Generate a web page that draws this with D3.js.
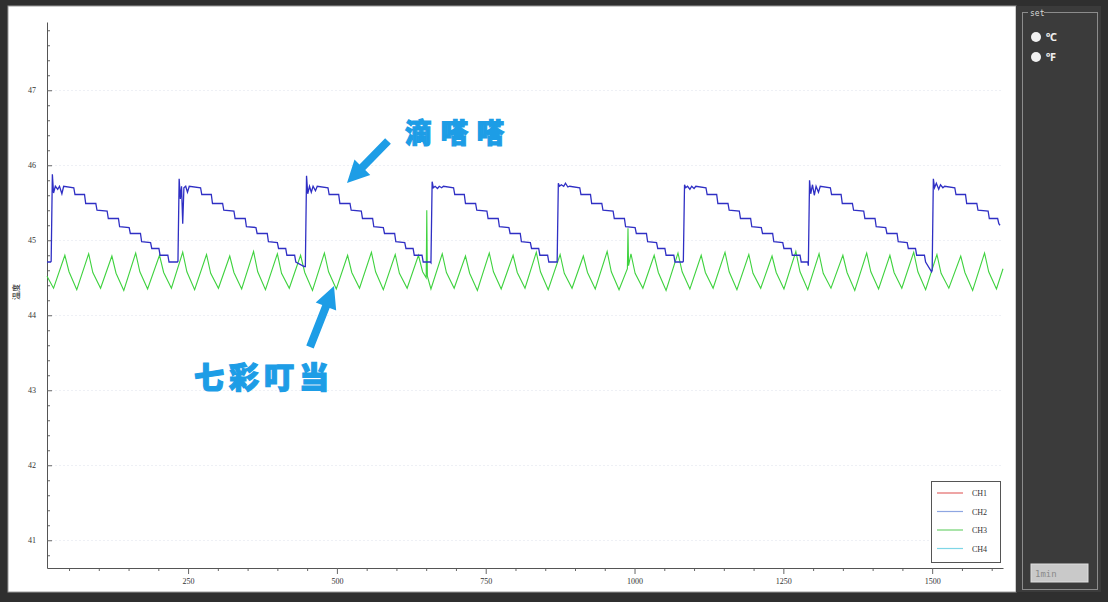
<!DOCTYPE html>
<html>
<head>
<meta charset="utf-8">
<script src="https://cdn.jsdelivr.net/npm/d3@7"></script>
<style>
  html, body { margin: 0; padding: 0; background: #2f2f2f; }
  svg { display: block; }
</style>
</head>
<body>
<svg id="chart"></svg>
<script>
// axis settings
const xDomain = [13, 1619];
const yDomain = [40.63, 47.91];
const xTickValues = [250, 500, 750, 1000, 1250, 1500];
const yTickValues = [41, 42, 43, 44, 45, 46, 47];

// legend
const seriesNames = ["CH1", "CH2", "CH3", "CH4"];
const seriesColors = ["#e36a6a", "#8ea6e2", "#6fd26f", "#7fd6e6"];

// CH2 (blue sawtooth) [x, value]
const ch2 = [
  [13, 44.71], [19, 44.71],
  [20, 44.72], [22, 45.88], [24, 45.63], [27, 45.72], [31, 45.68], [34, 45.72], [38, 45.62], [41, 45.72],
  [58, 45.70], [60, 45.61], [76, 45.61], [78, 45.49], [95, 45.49], [97, 45.40], [114, 45.39], [116, 45.29],
  [133, 45.29], [135, 45.18], [151, 45.17], [153, 45.09], [170, 45.09], [172, 44.98], [187, 44.97], [189, 44.89],
  [201, 44.89], [203, 44.80], [216, 44.80], [218, 44.71], [232, 44.71],
  [233, 44.72], [235, 45.82], [237, 45.55], [239, 45.72], [241, 45.22], [243, 45.70], [246, 45.72], [249, 45.64], [252, 45.72],
  [271, 45.70], [273, 45.61], [289, 45.61], [291, 45.49], [308, 45.49], [310, 45.40], [327, 45.39], [329, 45.29],
  [346, 45.29], [348, 45.18], [364, 45.17], [366, 45.09], [383, 45.09], [385, 44.98], [400, 44.97], [402, 44.89],
  [414, 44.89], [416, 44.80], [429, 44.80], [431, 44.71], [445, 44.65],
  [447, 44.65], [449, 45.86], [451, 45.62], [454, 45.72], [457, 45.64], [460, 45.72], [464, 45.66], [467, 45.72],
  [485, 45.70], [487, 45.61], [503, 45.61], [505, 45.49], [522, 45.49], [524, 45.40], [541, 45.39], [543, 45.29],
  [560, 45.29], [562, 45.18], [578, 45.17], [580, 45.09], [597, 45.09], [599, 44.98], [614, 44.97], [616, 44.89],
  [628, 44.89], [630, 44.80], [643, 44.80], [645, 44.71], [657, 44.71],
  [658, 44.70], [660, 45.78], [662, 45.70], [665, 45.72], [669, 45.69], [672, 45.72], [676, 45.70], [679, 45.72],
  [696, 45.70], [698, 45.61], [714, 45.61], [716, 45.49], [733, 45.49], [735, 45.40], [752, 45.39], [754, 45.29],
  [771, 45.29], [773, 45.18], [789, 45.17], [791, 45.09], [808, 45.09], [810, 44.98], [825, 44.97], [827, 44.89],
  [839, 44.89], [841, 44.80], [854, 44.80], [856, 44.71], [869, 44.71],
  [870, 44.71], [872, 45.76], [874, 45.72], [877, 45.74], [881, 45.72], [884, 45.76], [888, 45.71], [891, 45.72],
  [908, 45.70], [910, 45.61], [926, 45.61], [928, 45.49], [945, 45.49], [947, 45.40], [964, 45.39], [966, 45.29],
  [983, 45.29], [985, 45.18], [1001, 45.17], [1003, 45.09], [1020, 45.09], [1022, 44.98], [1037, 44.97], [1039, 44.89],
  [1051, 44.89], [1053, 44.80], [1066, 44.80], [1068, 44.71], [1081, 44.71],
  [1082, 44.72], [1084, 45.74], [1086, 45.70], [1089, 45.72], [1093, 45.68], [1096, 45.72], [1100, 45.69], [1103, 45.72],
  [1120, 45.70], [1122, 45.61], [1138, 45.61], [1140, 45.49], [1157, 45.49], [1159, 45.40], [1176, 45.39], [1178, 45.29],
  [1195, 45.29], [1197, 45.18], [1213, 45.17], [1215, 45.09], [1232, 45.09], [1234, 44.98], [1249, 44.97], [1251, 44.89],
  [1263, 44.89], [1265, 44.80], [1278, 44.80], [1280, 44.71], [1291, 44.71],
  [1292, 44.66], [1294, 45.80], [1296, 45.62], [1299, 45.74], [1302, 45.60], [1305, 45.72], [1309, 45.64], [1312, 45.72],
  [1329, 45.70], [1331, 45.61], [1347, 45.61], [1349, 45.49], [1366, 45.49], [1368, 45.40], [1385, 45.39], [1387, 45.29],
  [1404, 45.29], [1406, 45.18], [1422, 45.17], [1424, 45.09], [1441, 45.09], [1443, 44.98], [1458, 44.97], [1460, 44.89],
  [1472, 44.89], [1474, 44.80], [1487, 44.80], [1489, 44.71], [1499, 44.58],
  [1500, 44.60], [1502, 45.82], [1504, 45.70], [1507, 45.76], [1511, 45.68], [1514, 45.74], [1518, 45.70], [1521, 45.72],
  [1538, 45.70], [1540, 45.61], [1556, 45.61], [1558, 45.49], [1575, 45.49], [1577, 45.40], [1594, 45.39], [1596, 45.29],
  [1610, 45.29], [1612, 45.22], [1614, 45.20]
];

// CH3 (green ripple) [x, value]
const ch3 = [
  [13, 44.52], [24, 44.36], [43, 44.80], [50, 44.58], [63, 44.34], [83, 44.82], [90, 44.57], [103, 44.36],
  [122, 44.79], [129, 44.56], [142, 44.33], [162, 44.83], [169, 44.58], [182, 44.35], [202, 44.80], [209, 44.57],
  [222, 44.36], [241, 44.84], [248, 44.58], [261, 44.34], [281, 44.81], [288, 44.56], [301, 44.36], [320, 44.79],
  [327, 44.57], [340, 44.35], [360, 44.85], [367, 44.58], [380, 44.34], [400, 44.82], [407, 44.56], [420, 44.36],
  [439, 44.80], [446, 44.57], [459, 44.33], [479, 44.83], [486, 44.58], [499, 44.35], [518, 44.80], [525, 44.57],
  [538, 44.36], [558, 44.84], [565, 44.58], [578, 44.34], [598, 44.81], [605, 44.56], [618, 44.36], [637, 44.80],
  [644, 44.58], [650, 44.50], [651, 45.40], [652, 44.52], [658, 44.35], [677, 44.82], [684, 44.57], [697, 44.36],
  [716, 44.79], [723, 44.56], [736, 44.33], [756, 44.83], [763, 44.58], [776, 44.35], [796, 44.80], [803, 44.57],
  [816, 44.36], [835, 44.84], [842, 44.58], [855, 44.34], [875, 44.81], [882, 44.56], [895, 44.36], [914, 44.79],
  [921, 44.57], [934, 44.35], [954, 44.85], [961, 44.58], [974, 44.34], [988, 44.62], [989, 45.16], [990, 44.66],
  [994, 44.82], [1001, 44.56], [1014, 44.36], [1033, 44.80], [1040, 44.57], [1053, 44.33], [1073, 44.83], [1080, 44.58],
  [1093, 44.35], [1112, 44.80], [1119, 44.57], [1132, 44.36], [1152, 44.84], [1159, 44.58], [1172, 44.34], [1192, 44.81],
  [1199, 44.56], [1212, 44.36], [1231, 44.79], [1238, 44.57], [1251, 44.35], [1271, 44.85], [1278, 44.58], [1291, 44.34],
  [1310, 44.82], [1317, 44.56], [1330, 44.36], [1350, 44.80], [1357, 44.57], [1370, 44.33], [1390, 44.83], [1397, 44.58],
  [1410, 44.35], [1429, 44.80], [1436, 44.57], [1449, 44.36], [1469, 44.84], [1476, 44.58], [1489, 44.34], [1508, 44.81],
  [1515, 44.56], [1528, 44.36], [1548, 44.79], [1555, 44.57], [1568, 44.33], [1588, 44.83], [1595, 44.58], [1608, 44.35],
  [1619, 44.62]
];

const W = 1108, H = 602;
const plot = { left: 47, right: 1003, top: 22, bottom: 568 };

const svg = d3.select("#chart").attr("width", W).attr("height", H);

// window frame
svg.append("rect").attr("width", W).attr("height", H).attr("fill", "#2f2f2f");
svg.append("rect").attr("x", 8).attr("y", 6).attr("width", 1008).attr("height", 586)
  .attr("fill", "#ffffff").attr("stroke", "#9a9a9a").attr("stroke-width", 1);

// right control panel
svg.append("rect").attr("x", 1016).attr("y", 6).attr("width", 85).attr("height", 586).attr("fill", "#3b3b3b");
svg.append("rect").attr("x", 1022.5).attr("y", 12.5).attr("width", 75).attr("height", 577)
  .attr("fill", "none").attr("stroke", "#8c8c8c");
svg.append("rect").attr("x", 1028).attr("y", 8).attr("width", 16).attr("height", 9).attr("fill", "#3b3b3b");
svg.append("text").attr("x", 1030).attr("y", 16).text("set")
  .attr("font-family", "DejaVu Sans Mono").attr("font-size", 8).attr("fill", "#d8d8d8");
const units = ["℃", "℉"];
units.forEach((u, i) => {
  svg.append("circle").attr("cx", 1036).attr("cy", 37 + i * 20).attr("r", 5).attr("fill", "#f2f2f2");
  svg.append("text").attr("x", 1046).attr("y", 41 + i * 20).text(u)
    .attr("font-family", "Noto Sans").attr("font-size", 11).attr("font-weight", "bold").attr("fill", "#eeeeee");
});
svg.append("rect").attr("x", 1031).attr("y", 564).attr("width", 57).attr("height", 18)
  .attr("fill", "#c9c9c9").attr("stroke", "#e0e0e0");
svg.append("text").attr("x", 1035).attr("y", 577).text("1min")
  .attr("font-family", "DejaVu Sans Mono").attr("font-size", 9).attr("fill", "#8a8a8a");

// scales
const x = d3.scaleLinear().domain(xDomain).range([plot.left, plot.right]);
const y = d3.scaleLinear().domain(yDomain).range([plot.bottom, plot.top]);

// faint grid
svg.append("g").selectAll("line").data(yTickValues).enter().append("line")
  .attr("x1", plot.left).attr("x2", plot.right)
  .attr("y1", d => Math.round(y(d)) + 0.5).attr("y2", d => Math.round(y(d)) + 0.5)
  .attr("stroke", "#eef0f5").attr("stroke-dasharray", "2,2");

// minor ticks
const xMinor = d3.range(50, 1619, 50).filter(v => v % 250 !== 0);
const yMinor = d3.range(40.8, 47.9, 0.2).filter(v => Math.abs(v - Math.round(v)) > 0.05);

const xAxisG = svg.append("g").attr("transform", `translate(0,${plot.bottom})`);
xAxisG.call(d3.axisBottom(x).tickValues(xMinor).tickSize(3).tickFormat(""));
xAxisG.call(g => g.select(".domain").remove());
svg.append("g").attr("transform", `translate(0,${plot.bottom})`)
  .call(d3.axisBottom(x).tickValues(xTickValues).tickFormat(d3.format("d"))
    .tickSize(6).tickSizeOuter(0).tickPadding(4));

const yAxisG = svg.append("g").attr("transform", `translate(${plot.left},0)`);
yAxisG.call(d3.axisLeft(y).tickValues(yMinor).tickSize(-3).tickFormat(""));
yAxisG.call(g => g.select(".domain").remove());
svg.append("g").attr("transform", `translate(${plot.left},0)`)
  .call(d3.axisLeft(y).tickValues(yTickValues).tickSize(-5).tickSizeOuter(0).tickPadding(11));

svg.selectAll(".domain").attr("stroke", "#555");
svg.selectAll(".tick line").attr("stroke", "#666");
svg.selectAll(".tick text").attr("font-family", "Liberation Serif").attr("font-size", 8).attr("fill", "#333");

// y axis title
svg.append("text").attr("transform", "translate(19,292) rotate(-90)")
  .attr("text-anchor", "middle").text("温度")
  .attr("font-family", "Noto Sans CJK SC").attr("font-size", 8).attr("fill", "#222");

// series lines
const line = d3.line().x(d => x(d[0])).y(d => y(d[1]));
svg.append("path").datum(ch3).attr("d", line)
  .attr("fill", "none").attr("stroke", "#3fd23f").attr("stroke-width", 1.1);
svg.append("path").datum(ch2).attr("d", line)
  .attr("fill", "none").attr("stroke", "#2f2fc4").attr("stroke-width", 1.3);

// legend
const legend = svg.append("g").attr("transform", "translate(931,481)");
legend.append("rect").attr("x", 0.5).attr("y", 0.5).attr("width", 69).attr("height", 81)
  .attr("fill", "#fff").attr("stroke", "#555");
seriesNames.forEach((name, i) => {
  const ly = 12 + i * 18.5;
  legend.append("line").attr("x1", 6).attr("x2", 32).attr("y1", ly).attr("y2", ly)
    .attr("stroke", seriesColors[i]).attr("stroke-width", 1.2);
  legend.append("text").attr("x", 41).attr("y", ly + 3).text(name)
    .attr("font-family", "Liberation Serif").attr("font-size", 8).attr("fill", "#333");
});

// annotations
const noteColor = "#1d9de6";
function arrow(x1, y1, x2, y2) {
  const dx = x2 - x1, dy = y2 - y1, len = Math.hypot(dx, dy);
  const ux = dx / len, uy = dy / len, nx = -uy, ny = ux;
  const headLen = 22, headW = 11, shaftW = 4;
  const bx = x2 - ux * headLen, by = y2 - uy * headLen;
  return [
    [x1 + nx * shaftW, y1 + ny * shaftW], [bx + nx * shaftW, by + ny * shaftW],
    [bx + nx * headW, by + ny * headW], [x2, y2],
    [bx - nx * headW, by - ny * headW], [bx - nx * shaftW, by - ny * shaftW],
    [x1 - nx * shaftW, y1 - ny * shaftW]
  ];
}
svg.append("polygon").attr("points", arrow(388, 141, 347, 183).join(" ")).attr("fill", noteColor);
svg.append("polygon").attr("points", arrow(310, 347, 334, 286).join(" ")).attr("fill", noteColor);

svg.append("text").attr("x", 405).attr("y", 143).text("滴嗒嗒")
  .attr("font-family", "Noto Sans CJK SC").attr("font-weight", 900).attr("font-size", 27)
  .attr("letter-spacing", 9).attr("fill", noteColor)
  .attr("stroke", noteColor).attr("stroke-width", 1.2);
svg.append("text").attr("x", 194).attr("y", 388).text("七彩叮当")
  .attr("font-family", "Noto Sans CJK SC").attr("font-weight", 900).attr("font-size", 30)
  .attr("letter-spacing", 5).attr("fill", noteColor)
  .attr("stroke", noteColor).attr("stroke-width", 1.2);
</script>
</body>
</html>
